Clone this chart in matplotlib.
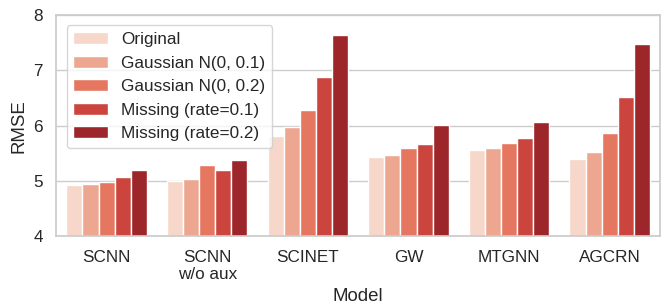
import numpy as np
import matplotlib
matplotlib.use("Agg")
import matplotlib.pyplot as plt
import seaborn as sns

models = ["SCNN", "SCNN\nw/o aux", "SCINET", "GW", "MTGNN", "AGCRN"]
settings = ["Original", "Gaussian N(0, 0.1)", "Gaussian N(0, 0.2)",
            "Missing (rate=0.1)", "Missing (rate=0.2)"]
original = [4.92, 5.00, 5.81, 5.44, 5.56, 5.39]
gauss_01 = [4.95, 5.04, 5.98, 5.47, 5.59, 5.52]
gauss_02 = [4.98, 5.29, 6.28, 5.60, 5.69, 5.86]
miss_01 = [5.08, 5.19, 6.87, 5.67, 5.77, 6.52]
miss_02 = [5.20, 5.38, 7.64, 6.01, 6.07, 7.47]
series = [original, gauss_01, gauss_02, miss_01, miss_02]

sns.set_theme(style="whitegrid", font_scale=1.12)
plt.rcParams['font.family'] = ['Arial', 'Liberation Sans', 'DejaVu Sans']
# seaborn barplot uses saturation=0.75 by default
colors = [sns.desaturate(c, 0.75) for c in sns.color_palette("Reds", len(settings))]

fig, ax = plt.subplots(figsize=(6.62, 3.05), dpi=100)
x = np.arange(len(models))
width = 0.8 / len(settings)
for i, (name, vals) in enumerate(zip(settings, series)):
    ax.bar(x - 0.4 + width * (i + 0.5), vals, width, label=name,
           color=colors[i], edgecolor="white", linewidth=1)

ax.set_xticks(x)
ax.set_xticklabels(models)
ax.set_xlim(-0.5, len(models) - 0.5)
ax.set_ylim(4, 8)
ax.set_yticks([4, 5, 6, 7, 8])
ax.set_xlabel("Model")
ax.set_ylabel("RMSE")
ax.legend(loc="upper left", borderaxespad=0.6)
ax.grid(axis="x", visible=False)
fig.subplots_adjust(left=0.085, right=0.997, top=0.951, bottom=0.225)
plt.savefig("out.png")
